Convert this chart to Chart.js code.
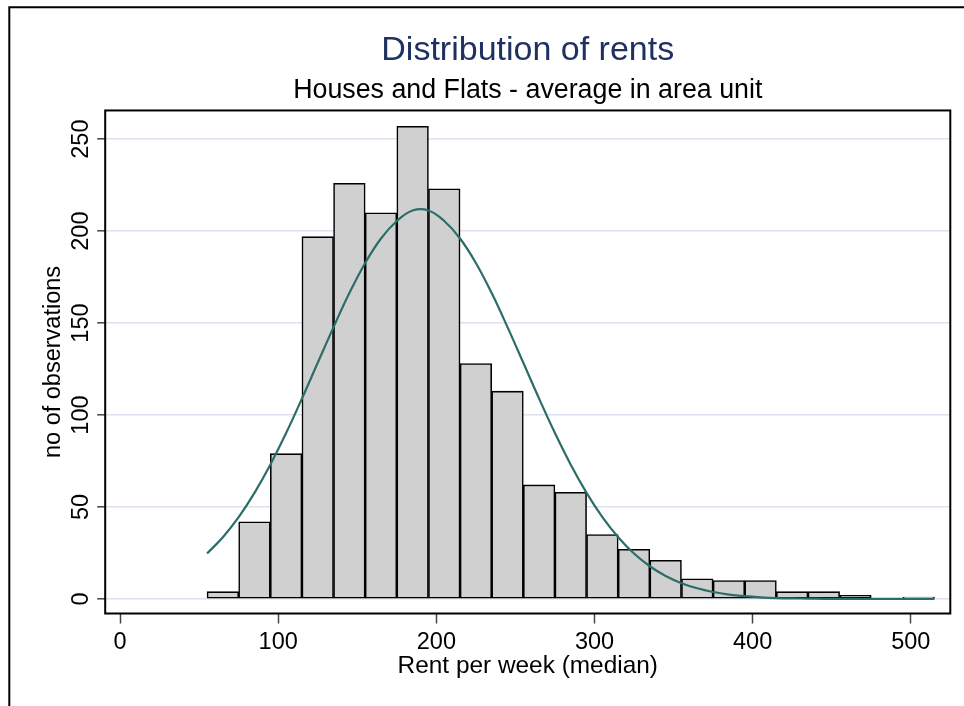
<!DOCTYPE html>
<html>
<head>
<meta charset="utf-8">
<title>Distribution of rents</title>
<script src="https://cdn.jsdelivr.net/npm/chart.js@4.4.1/dist/chart.umd.min.js"></script>
<style>
    html, body { margin: 0; padding: 0; background: #fff; overflow: hidden; }
    #wrap { position: relative; width: 964px; height: 706px; }
</style>
</head>
<body>
<div id="wrap"><canvas id="chart"></canvas></div>
<script>
// histogram: centre of each 20-wide bin and its count
const binCenters = [65, 85, 105, 125, 145, 165, 185, 205, 225, 245, 265, 285, 305, 325, 345, 365, 385, 405, 425, 445, 465, 485, 505];
const binCounts = [4, 42, 79, 197, 226, 210, 257, 223, 128, 113, 62, 58, 35, 27, 21, 11, 10, 10, 4, 4, 2, 0, 1];

// normal density overlay
const curveX = [55, 65, 75, 85, 95, 105, 115, 125, 135, 145, 155, 165, 175, 185, 195, 205, 215, 225, 235, 245, 255, 265, 275, 285, 295, 305, 315, 325, 335, 345, 355, 365, 375, 385, 395, 405, 415, 425, 435, 445, 455, 465, 475, 485, 495, 505, 515];
const curveY = [24.7, 33.6, 44.5, 57.7, 73, 90.2, 108.9, 128.4, 147.8, 166.3, 182.7, 196, 205.5, 211.2, 211.2, 205.5, 196, 182.7, 166.3, 147.8, 128.4, 108.9, 90.2, 73, 57.7, 44.5, 33.6, 24.7, 17.8, 12.5, 8.6, 5.8, 3.8, 2.4, 1.5, 0.9, 0.5, 0.3, 0.2, 0.1, 0.1, 0, 0, 0, 0, 0, 0];

const xTicks = [0, 100, 200, 300, 400, 500];
const yTicks = [0, 50, 100, 150, 200, 250];

const FONT = "'Liberation Sans', Arial, Helvetica, sans-serif";

// outer graph frame and the box round the plot region
const framePlugin = {
    id: 'frame',
    beforeDraw(chart) {
        const ctx = chart.ctx;
        ctx.save();
        ctx.strokeStyle = '#000';
        ctx.lineWidth = 2;
        ctx.beginPath();
        ctx.moveTo(9.3, chart.height);
        ctx.lineTo(9.3, 7.3);
        ctx.lineTo(chart.width, 7.3);
        ctx.stroke();
        ctx.restore();
    },
    afterDatasetsDraw(chart) {
        const { ctx, chartArea: a } = chart;
        ctx.save();
        ctx.strokeStyle = '#000';
        ctx.lineWidth = 2;
        ctx.strokeRect(a.left, a.top, a.right - a.left, a.bottom - a.top);
        ctx.restore();
    },
};

new Chart(document.getElementById('chart').getContext('2d'), {
    type: 'bar',
    data: {
        datasets: [
            {
                type: 'line',
                label: 'Normal density',
                data: curveX.map((x, i) => ({ x: x, y: curveY[i] })),
                borderColor: '#2b6e69',
                borderWidth: 2.2,
                pointRadius: 0,
                tension: 0.4,
                fill: false,
                order: 0,
            },
            {
                type: 'bar',
                label: 'Frequency',
                data: binCenters.map((x, i) => ({ x: x, y: binCounts[i] })),
                backgroundColor: '#d0d0d0',
                borderColor: '#000',
                borderWidth: 1.6,
                borderSkipped: false,
                barPercentage: 1,
                categoryPercentage: 1,
                order: 1,
            },
        ],
    },
    options: {
        responsive: true,
        maintainAspectRatio: false,
        animation: false,
        layout: {
            padding: { left: 105.2, right: 13.7, top: 0, bottom: 0 },
        },
        plugins: {
            legend: { display: false },
            tooltip: { enabled: false },
            title: {
                display: true,
                text: 'Distribution of rents',
                color: '#1e3160',
                font: { family: FONT, size: 34, weight: 'normal' },
                padding: { top: 30.5, bottom: 0 },
            },
            subtitle: {
                display: true,
                text: 'Houses and Flats - average in area unit',
                color: '#000',
                font: { family: FONT, size: 26.8, weight: 'normal' },
                padding: { top: 3.6, bottom: 3.4 },
            },
        },
        scales: {
            x: {
                type: 'linear',
                min: -9.4,
                max: 525,
                offset: false,
                afterBuildTicks: (scale) => {
                    scale.ticks = xTicks.map((v) => ({ value: v }));
                },
                afterFit: (scale) => {
                    scale.height = 92.5;
                },
                grid: {
                    display: true,
                    offset: false,
                    drawOnChartArea: false,
                    drawTicks: true,
                    tickLength: 10,
                    tickColor: '#444',
                    tickWidth: 1.5,
                },
                border: { display: false },
                ticks: {
                    color: '#000',
                    font: { family: FONT, size: 23.5 },
                    padding: 5.4,
                    maxRotation: 0,
                    autoSkip: false,
                },
                title: {
                    display: true,
                    text: 'Rent per week (median)',
                    color: '#000',
                    font: { family: FONT, size: 24.4 },
                    padding: { top: 0, bottom: 24.6 },
                },
            },
            y: {
                type: 'linear',
                min: -7.9,
                max: 265.6,
                afterBuildTicks: (scale) => {
                    scale.ticks = yTicks.map((v) => ({ value: v }));
                },
                afterFit: (scale) => {
                    scale.width = 0;
                },
                grid: {
                    color: '#dde2ee',
                    lineWidth: 1.6,
                    drawTicks: true,
                    tickLength: 8,
                    tickColor: '#444',
                    tickWidth: 1.5,
                },
                border: { display: false },
                ticks: {
                    // mirror keeps the labels from being clipped to the zero-width axis box
                    mirror: true,
                    color: '#000',
                    font: { family: FONT, size: 23.5 },
                    padding: -43.5,
                    minRotation: 90,
                    maxRotation: 90,
                    crossAlign: 'center',
                    autoSkip: false,
                },
                title: {
                    display: true,
                    text: 'no of observations',
                    color: '#000',
                    font: { family: FONT, size: 23.5 },
                    padding: { top: -65.7, bottom: 0 },
                },
            },
        },
    },
    plugins: [framePlugin],
});
</script>
</body>
</html>
